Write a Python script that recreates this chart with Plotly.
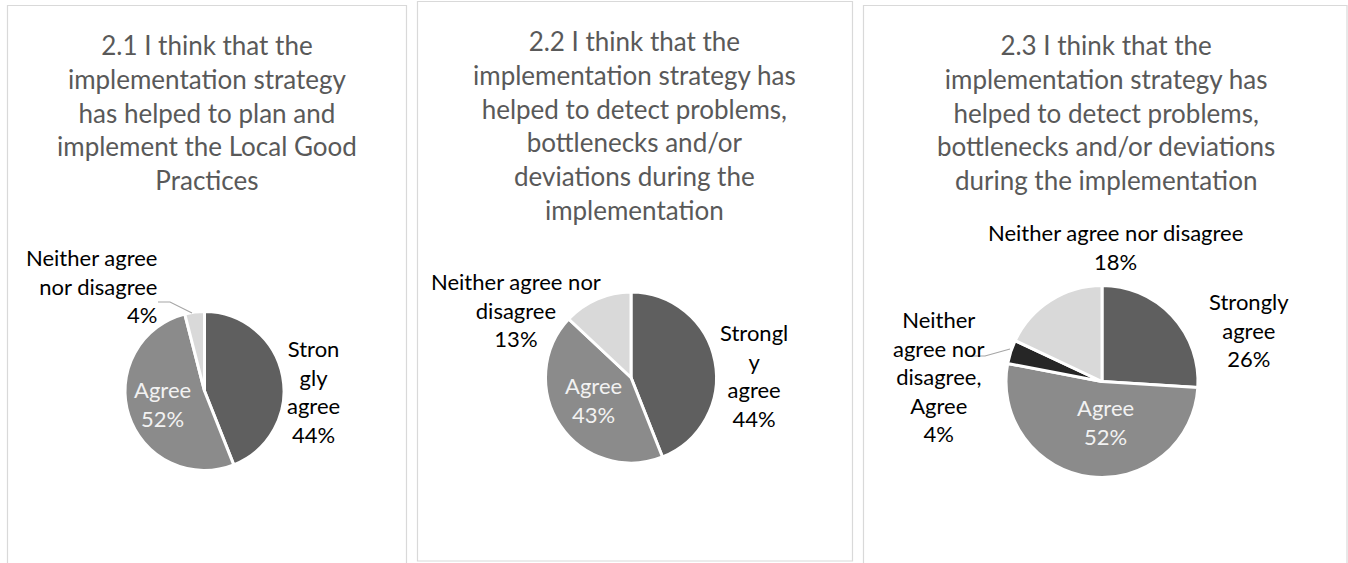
import plotly.graph_objects as go

# ---- survey results (percent of respondents) ----
q1_title = "2.1 I think that the<br>implementation strategy<br>has helped to plan and<br>implement the Local Good<br>Practices"
q1_labels = ["Strongly agree", "Agree", "Neither agree nor disagree"]
q1_values = [44, 52, 4]

q2_title = "2.2 I think that the<br>implementation strategy has<br>helped to detect problems,<br>bottlenecks and/or<br>deviations during the<br>implementation"
q2_labels = ["Strongly agree", "Agree", "Neither agree nor disagree"]
q2_values = [44, 43, 13]

q3_title = "2.3 I think that the<br>implementation strategy has<br>helped to detect problems,<br>bottlenecks and/or deviations<br>during the implementation"
q3_labels = ["Strongly agree", "Agree", "Neither agree nor disagree, Agree", "Neither agree nor disagree"]
q3_values = [26, 52, 4, 18]

# wrapped category text as it appears next to each slice
q1_wrapped = ["Stron<br>gly<br>agree", "Agree", "Neither agree<br>nor disagree"]
q2_wrapped = ["Strongl<br>y<br>agree", "Agree", "Neither agree nor<br>disagree"]
q3_wrapped = ["Strongly<br>agree", "Agree", "Neither<br>agree nor<br>disagree,<br>Agree", "Neither agree nor disagree"]

slice_colors = {
    "Strongly agree": "#5f5f5f",
    "Agree": "#8b8b8b",
    "Neither agree nor disagree": "#d9d9d9",
    "Neither agree nor disagree, Agree": "#262626",
}

W, H = 1348, 563
FONT = "Lato, Calibri, 'Open Sans', sans-serif"


def fx(x):
    return x / W


def fy(y):
    return 1 - y / H


fig = go.Figure()


def add_pie(labels, values, cx, cy, r):
    fig.add_trace(go.Pie(
        labels=labels,
        values=values,
        sort=False,
        direction="clockwise",
        rotation=0,
        textinfo="none",
        hoverinfo="label+percent",
        marker=dict(colors=[slice_colors[l] for l in labels],
                    line=dict(color="white", width=3)),
        domain=dict(x=[fx(cx - r), fx(cx + r)], y=[fy(cy + r), fy(cy - r)]),
        showlegend=False,
    ))


add_pie(q1_labels, q1_values, 204.5, 391, 79.5)
add_pie(q2_labels, q2_values, 631, 377.5, 85.5)
add_pie(q3_labels, q3_values, 1102, 381.5, 96)

annotations = []


def note(text, x, y, size, color, xanchor="center", align="center"):
    annotations.append(dict(
        text=text, x=fx(x), y=fy(y), xref="paper", yref="paper",
        xanchor=xanchor, yanchor="middle", align=align, showarrow=False,
        font=dict(family=FONT, size=size, color=color),
    ))


# chart titles
note(q1_title, 206.5, 112.5, 26, "#595959")
note(q2_title, 634.5, 125.5, 26, "#595959")
note(q3_title, 1106, 112.5, 26, "#595959")


def slice_text(wrapped, value):
    return f"{wrapped}<br>{value}%"


LBL = 22
# question 2.1
note(slice_text(q1_wrapped[0], q1_values[0]), 313, 391.3, LBL, "black")
note(slice_text(q1_wrapped[1], q1_values[1]), 162, 403.8, LBL, "#f2f2f2")
note(slice_text(q1_wrapped[2], q1_values[2]), 159, 285.5, LBL, "black", xanchor="right", align="right")
# question 2.2
note(slice_text(q2_wrapped[0], q2_values[0]), 754, 375.2, LBL, "black")
note(slice_text(q2_wrapped[1], q2_values[1]), 593, 400.3, LBL, "#f2f2f2")
note(slice_text(q2_wrapped[2], q2_values[2]), 516, 309.9, LBL, "black")
# question 2.3
note(slice_text(q3_wrapped[0], q3_values[0]), 1249, 330.2, LBL, "black")
note(slice_text(q3_wrapped[1], q3_values[1]), 1105, 421.7, LBL, "#f2f2f2")
note(slice_text(q3_wrapped[2], q3_values[2]), 939, 376.4, LBL, "black")
note(slice_text(q3_wrapped[3], q3_values[3]), 1115, 246.5, LBL, "black")


def path(points):
    return "M " + " L ".join(f"{fx(x)},{fy(y)}" for x, y in points)


border = dict(color="#d9d9d9", width=1.2)
shapes = [
    # chart frames
    dict(type="path", xref="paper", yref="paper", line=border,
         path=path([(7.5, 620), (7.5, 5.5), (406.5, 5.5), (406.5, 620)])),
    dict(type="rect", xref="paper", yref="paper", line=border,
         x0=fx(417.5), x1=fx(852.5), y0=fy(561), y1=fy(1.5)),
    dict(type="path", xref="paper", yref="paper", line=border,
         path=path([(863.5, 620), (863.5, 5.5), (1347, 5.5), (1347, 620)])),
    # leader lines for the small slices
    dict(type="path", xref="paper", yref="paper", line=dict(color="#a6a6a6", width=1.2),
         path=path([(158, 302), (170, 302), (192, 313)])),
    dict(type="path", xref="paper", yref="paper", line=dict(color="#a6a6a6", width=1.2),
         path=path([(972, 356), (985, 356), (1010, 349)])),
]

fig.update_layout(
    width=W, height=H,
    margin=dict(l=0, r=0, t=0, b=0),
    paper_bgcolor="white",
    plot_bgcolor="white",
    showlegend=False,
    annotations=annotations,
    shapes=shapes,
)

fig.write_html("out.html")
